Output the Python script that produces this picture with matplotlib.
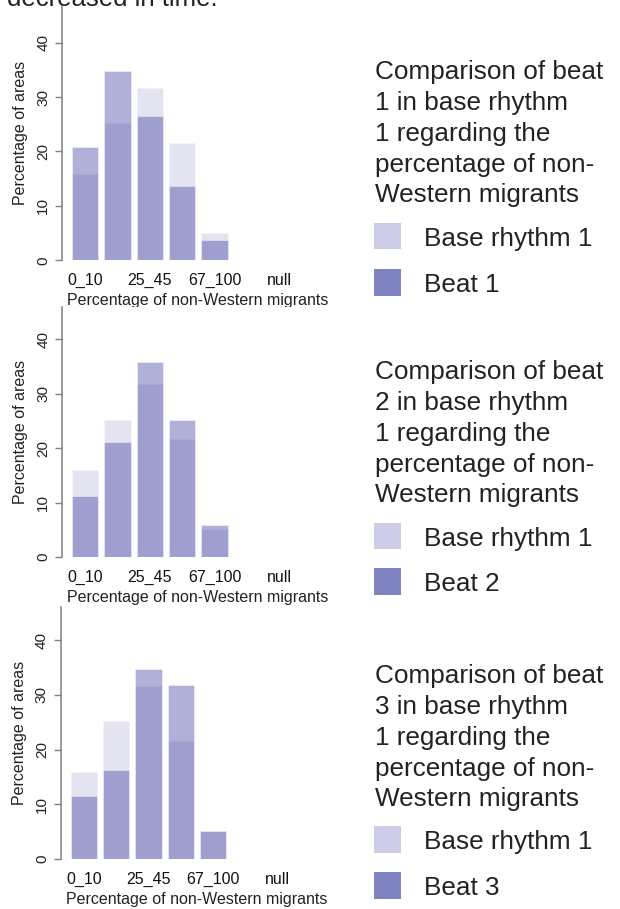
import matplotlib
matplotlib.use("Agg")
import matplotlib.pyplot as plt
from matplotlib.patches import Rectangle
import numpy as np

plt.rcParams['font.family'] = ['Liberation Sans', 'DejaVu Sans']

# ---- data ----
categories = ["0_10", "10_25", "25_45", "45_67", "67_100", "other", "null"]
shown_labels = ["0_10", "", "25_45", "", "67_100", "", "null"]
base_rhythm_1 = [15.9, 25.2, 31.7, 21.6, 5.1, 0, 0]
beat_1 = [20.9, 34.8, 26.6, 13.7, 3.7, 0, 0]
beat_2 = [11.2, 21.2, 35.9, 25.1, 5.9, 0, 0]
beat_3 = [11.5, 16.2, 34.7, 31.9, 5.2, 0, 0]
beats = [beat_1, beat_2, beat_3]
beat_names = ["Beat 1", "Beat 2", "Beat 3"]
titles = ["Comparison of beat\n%d in base rhythm\n1 regarding the\npercentage of non-\nWestern migrants" % k
          for k in (1, 2, 3)]
yticks = [0, 10, 20, 30, 40]

W, H = 620, 909
fig = plt.figure(figsize=(W / 100, H / 100), dpi=100)

bar_rgb = (50 / 255, 50 / 255, 154 / 255)
base_alpha = 0.13
beat_alpha = 0.385
leg_light = "#ccccE6"
leg_dark = "#7f83c0"
axis_gray = "#808080"

# panel geometry in pixels
panels = [
    dict(left=62.0, y0=260.3, s=5.44, top=46.7, title_y=60, sq=(222.7, 269.3)),
    dict(left=62.0, y0=557.0, s=5.443, top=46.0, title_y=360, sq=(522.7, 568.3)),
    dict(left=60.7, y0=859.0, s=5.4675, top=46.0, title_y=664, sq=(826.0, 872.3)),
]
xpx = 32.3
xlim = (-0.72, 7.67)

x = np.arange(len(categories))

def fx(px):
    return px / W

def fy(py):
    return 1 - py / H

# top text fragment from the document
fig.text(fx(7), fy(6), "decreased in time.", fontsize=18.5, va="baseline", ha="left", color="#222222")

for i, p in enumerate(panels):
    axw = (xlim[1] - xlim[0]) * xpx
    axh = p["top"] * p["s"]
    ax = fig.add_axes([fx(p["left"]), (H - p["y0"]) / H, axw / W, axh / H])
    ax.set_facecolor("white")
    ax.set_zorder(2 + i)
    ax.bar(x, base_rhythm_1, width=0.82, color=bar_rgb, alpha=base_alpha,
           edgecolor="white", linewidth=0.8)
    ax.bar(x, beats[i], width=0.82, color=bar_rgb, alpha=beat_alpha,
           edgecolor="white", linewidth=0.8)
    ax.set_xlim(*xlim)
    ax.set_ylim(0, p["top"])
    for sp in ("top", "right", "bottom"):
        ax.spines[sp].set_visible(False)
    ax.spines["left"].set_color(axis_gray)
    ax.spines["left"].set_linewidth(1.1)
    ax.set_yticks(yticks)
    ax.set_yticklabels([str(v) for v in yticks], rotation=90, va="center", fontsize=11, color="#222222")
    ax.tick_params(axis="y", length=5, width=1.0, color=axis_gray, pad=3.5)
    ax.set_xticks(x)
    ax.set_xticklabels(shown_labels, fontsize=11.5, color="#111111")
    ax.tick_params(axis="x", length=0, pad=9)
    ax.set_ylabel("Percentage of areas", fontsize=11.5, labelpad=6, color="#222222")
    ax.set_xlabel("Percentage of non-Western migrants", fontsize=11.5, labelpad=4, color="#222222")

    # legend block
    fig.text(fx(375), fy(p["title_y"]), titles[i], fontsize=18.8, va="top", ha="left",
             linespacing=1.36, color="#222222")
    for j, (col, lab) in enumerate([(leg_light, "Base rhythm 1"), (leg_dark, beat_names[i])]):
        top = p["sq"][j]
        fig.patches.append(Rectangle((fx(374), fy(top + 26.6)), 26.6 / W, 26.6 / H,
                                     transform=fig.transFigure, facecolor=col, edgecolor="none"))
        fig.text(fx(424), fy(top + 23.0), lab, fontsize=18.8, va="baseline", ha="left",
                 color="#222222")

fig.savefig("out.png", dpi=100)
